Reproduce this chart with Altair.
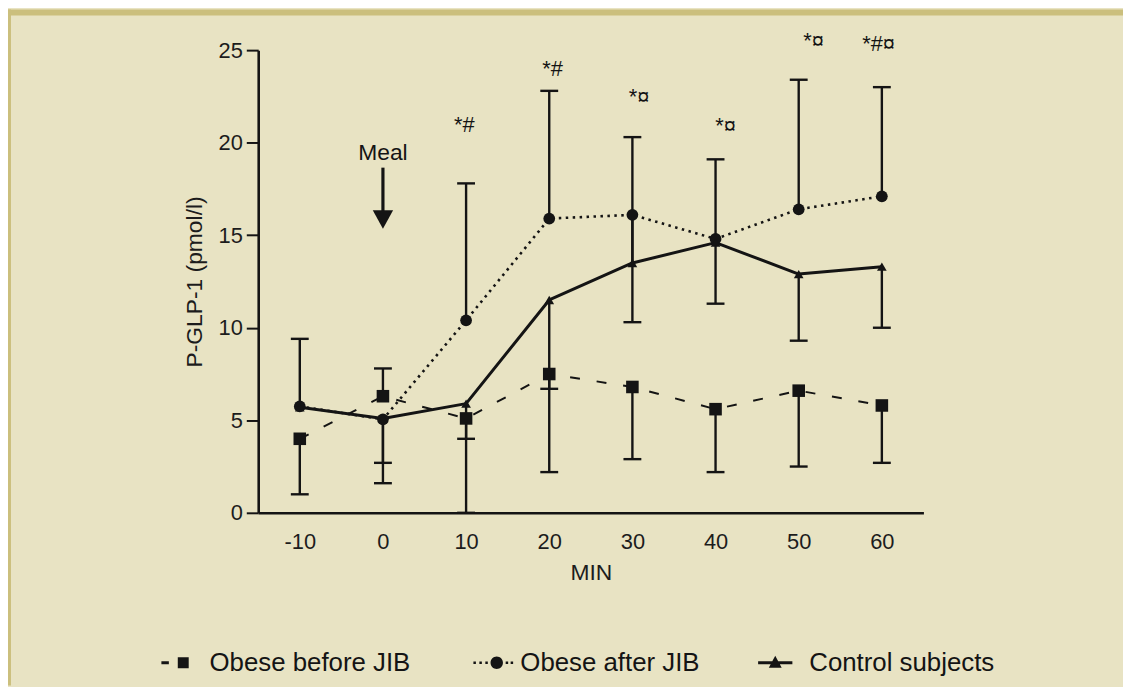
import altair as alt
import pandas as pd

# ---------------- data ----------------
times = [-10, 0, 10, 20, 30, 40, 50, 60]
series_names = ["Obese before JIB", "Obese after JIB", "Control subjects"]
before_mean = [4.0, 6.3, 5.1, 7.5, 6.8, 5.6, 6.6, 5.8]
after_mean = [5.75, 5.05, 10.4, 15.9, 16.1, 14.8, 16.4, 17.1]
control_mean = [5.7, 5.1, 5.9, 11.5, 13.5, 14.6, 12.9, 13.3]
# end point of each one-sided SD bar
before_err_end = [1.0, 7.8, 0.0, 2.2, 2.9, 2.2, 2.5, 2.7]
after_err_end = [9.4, 1.6, 17.8, 22.8, 10.3, 19.1, 23.4, 23.0]
control_err_end = [None, 2.7, 4.0, 6.7, 20.3, 11.3, 9.3, 10.0]

x_ticks = [-10, 0, 10, 20, 30, 40, 50, 60]
y_ticks = [0, 5, 10, 15, 20, 25]

annot_x = [9.8, 20.4, 30.8, 41.2, 51.8, 59.6]
annot_y = [20.95, 24.0, 22.45, 20.9, 25.5, 25.35]
annot_text = ["*#", "*#", "*\u00a4", "*\u00a4", "*\u00a4", "*#\u00a4"]

meal_x = [0]
meal_text = ["Meal"]
meal_text_y = [19.45]
meal_shaft_top = [18.65]
meal_shaft_bottom = [16.3]
meal_head_y = [15.85]

# ---------------- styles ----------------
INK = "#141414"
BG = "#e8e3c3"
FRAME = "#cbbf7d"
FONT = "Liberation Sans"

rows = []
for name, means, ends in zip(series_names,
                             [before_mean, after_mean, control_mean],
                             [before_err_end, after_err_end, control_err_end]):
    for t, m, e in zip(times, means, ends):
        rows.append({"series": name, "time": t, "mean": m, "end": e})
df = pd.DataFrame(rows)
err_df = df.dropna(subset=["end"])

xscale = alt.Scale(domain=[-15, 65], nice=False, zero=False)
yscale = alt.Scale(domain=[0, 25], nice=False, zero=True)
xaxis = alt.Axis(values=x_ticks, ticks=False, tickSize=0, labelPadding=19,
                 labelExpr="datum.value < 0 ? '-' + abs(datum.value) : '' + datum.value",
                 labelFontSize=22, titleFontSize=23, titlePadding=9, grid=False)
yaxis = alt.Axis(values=y_ticks, tickSize=12, tickWidth=2, labelPadding=4,
                 labelFontSize=22, titleFontSize=23, titlePadding=12, grid=False)


def X(field):
    return alt.X(field, type="quantitative", scale=xscale, axis=xaxis, title="MIN")


def Y(field):
    return alt.Y(field, type="quantitative", scale=yscale, axis=yaxis, title="P-GLP-1 (pmol/l)")


base = alt.Chart(df)

line_before = base.transform_filter(alt.datum.series == series_names[0]).mark_line(
    color=INK, strokeWidth=2, strokeDash=[10, 17]).encode(x=X("time"), y=Y("mean"))
line_after = base.transform_filter(alt.datum.series == series_names[1]).mark_line(
    color=INK, strokeWidth=2.6, strokeDash=[2.5, 4.5]).encode(x=X("time"), y=Y("mean"))
line_control = base.transform_filter(alt.datum.series == series_names[2]).mark_line(
    color=INK, strokeWidth=3, strokeJoin="round").encode(x=X("time"), y=Y("mean"))

err_rule = alt.Chart(err_df).mark_rule(color=INK, strokeWidth=2.4).encode(
    x=X("time"), y=Y("mean"), y2="end")
err_cap = alt.Chart(err_df).mark_tick(color=INK, orient="horizontal", size=18,
                                      thickness=2.4, opacity=1).encode(
    x=X("time"), y=Y("end"))

pt_before = base.transform_filter(alt.datum.series == series_names[0]).mark_point(
    shape="square", filled=True, size=160, color=INK, opacity=1).encode(x=X("time"), y=Y("mean"))
pt_after = base.transform_filter(alt.datum.series == series_names[1]).mark_point(
    shape="circle", filled=True, size=140, color=INK, opacity=1).encode(x=X("time"), y=Y("mean"))
pt_control = base.transform_filter(alt.datum.series == series_names[2]).mark_point(
    shape="triangle-up", filled=True, size=95, color=INK, opacity=1).encode(x=X("time"), y=Y("mean"))

annot_df = pd.DataFrame({"x": annot_x, "y": annot_y, "text": annot_text})
annots = alt.Chart(annot_df).mark_text(font=FONT, fontSize=22, color=INK,
                                       align="center", baseline="middle").encode(
    x=X("x"), y=Y("y"), text="text:N")

meal_df = pd.DataFrame({"x": meal_x, "text": meal_text, "ty": meal_text_y,
                        "s1": meal_shaft_top, "s2": meal_shaft_bottom, "hy": meal_head_y})
meal_label = alt.Chart(meal_df).mark_text(font=FONT, fontSize=23, color=INK,
                                          align="center", baseline="middle").encode(
    x=X("x"), y=Y("ty"), text="text:N")
meal_shaft = alt.Chart(meal_df).mark_rule(color=INK, strokeWidth=3.2).encode(
    x=X("x"), y=Y("s1"), y2="s2")
meal_head = alt.Chart(meal_df).mark_point(
    shape="M-1,-0.9L1,-0.9L0,0.9Z", filled=True, size=420, color=INK, opacity=1,
    strokeWidth=0).encode(x=X("x"), y=Y("hy"))

# legend symbols: dash+square, dots+circle+dots, line+triangle (unit = 25 px)
def dot(cx):
    return f"M{cx - 0.05:.3f},-0.05h0.1v0.1h-0.1Z"

P1 = "M-0.74,-0.06H-0.44V0.06H-0.74Z M-0.08,-0.22H0.36V0.22H-0.08Z"
P2 = (dot(-0.64) + dot(-0.40) + dot(-0.16)
      + "M0,0a0.25,0.25 0 1,0 0.5,0a0.25,0.25 0 1,0 -0.5,0Z"
      + dot(0.66) + dot(0.86))
P3 = "M-0.86,-0.06H0.52V0.06H-0.86Z M-0.43,0.2L-0.17,-0.28L0.09,0.2Z"

legend_df = pd.DataFrame({"series": series_names})
legend_layer = alt.Chart(legend_df).mark_point(
    filled=True, color=INK, opacity=1, strokeWidth=0).encode(
    x=alt.value(-3000), y=alt.value(-3000),
    shape=alt.Shape("series:N",
                    scale=alt.Scale(domain=series_names, range=[P1, P2, P3]),
                    legend=alt.Legend(orient="none", legendX=-104, legendY=592,
                                      direction="horizontal", title=None,
                                      symbolSize=2500, symbolStrokeWidth=0,
                                      labelFont=FONT, labelFontSize=26,
                                      labelColor=INK, labelOffset=5, labelLimit=0,
                                      columnPadding=55, padding=0)))

frame_df = pd.DataFrame({"k": [0]})
frame_top = alt.Chart(frame_df).mark_rule(color=FRAME, strokeWidth=6).encode(
    x=alt.value(-252), x2=alt.value(871), y=alt.value(-38))
frame_left = alt.Chart(frame_df).mark_rule(color=FRAME, strokeWidth=5).encode(
    x=alt.value(-251.5), y=alt.value(-41), y2=alt.value(640))

chart = alt.layer(
    frame_top, frame_left,
    line_before, line_after, line_control,
    err_rule, err_cap,
    pt_before, pt_after, pt_control,
    annots, meal_label, meal_shaft, meal_head,
    legend_layer,
).properties(
    width=670, height=466,
    padding={"left": 252, "top": 40, "right": 201, "bottom": 173},
    autosize=alt.AutoSizeParams(type="none"),
    background=BG,
).configure_view(strokeWidth=0).configure_axis(
    domainColor=INK, domainWidth=2.6, tickColor=INK, labelColor="#1c1c1c",
    titleColor="#1c1c1c", labelFont=FONT, titleFont=FONT, titleFontWeight="normal",
)

chart.save("out.html", embed_options={"renderer": "svg", "actions": False})
